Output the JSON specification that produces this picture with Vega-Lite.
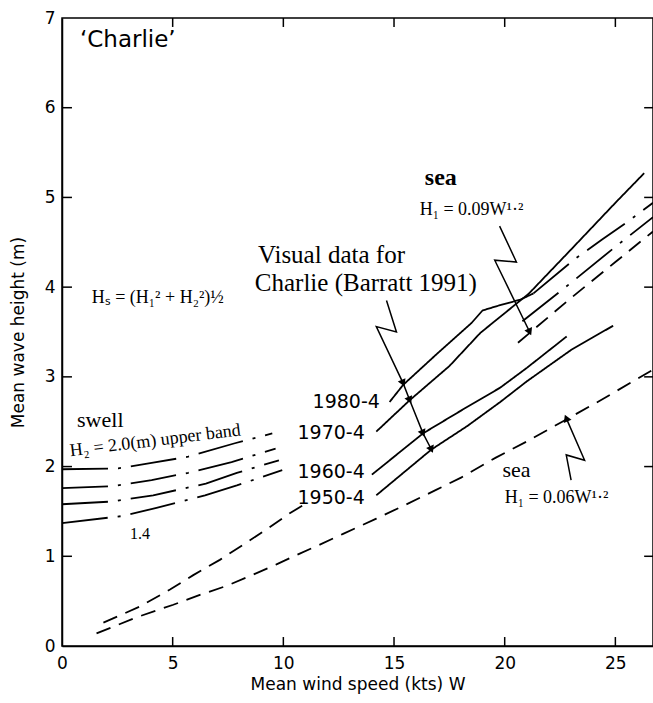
{
  "$schema": "https://vega.github.io/schema/vega-lite/v6.json",
  "width": 591,
  "height": 628,
  "autosize": {"type": "none"},
  "padding": {"left": 62, "top": 18, "right": 0, "bottom": 57},
  "background": "white",
  "config": {
    "view": {"stroke": "black", "strokeWidth": 1.5},
    "axis": {
      "grid": false,
      "ticks": false,
      "domainColor": "black",
      "domainWidth": 1.5,
      "labelFont": "DejaVu Sans",
      "labelFontSize": 17,
      "labelColor": "black",
      "labelFlush": false,
      "titleFont": "DejaVu Sans",
      "titleFontSize": 17,
      "titleFontWeight": "normal",
      "titleColor": "black"
    }
  },
  "datasets": {
    "curves": [
      {"s": "swell20", "st": "dashdot", "x": 0, "y": 1.97},
      {"s": "swell20", "st": "dashdot", "x": 2.54, "y": 1.98},
      {"s": "swell20", "st": "dashdot", "x": 4.05, "y": 2.04},
      {"s": "swell20", "st": "dashdot", "x": 5.7, "y": 2.11},
      {"s": "swell20", "st": "dashdot", "x": 7.81, "y": 2.26},
      {"s": "swell20", "st": "dashdot", "x": 9.5, "y": 2.37},
      {"s": "swell18", "st": "dashdot", "x": 0, "y": 1.76},
      {"s": "swell18", "st": "dashdot", "x": 2.24, "y": 1.78},
      {"s": "swell18", "st": "dashdot", "x": 4.05, "y": 1.85},
      {"s": "swell18", "st": "dashdot", "x": 5.7, "y": 1.93},
      {"s": "swell18", "st": "dashdot", "x": 7.66, "y": 2.05},
      {"s": "swell18", "st": "dashdot", "x": 9.65, "y": 2.2},
      {"s": "swell16", "st": "dashdot", "x": 0, "y": 1.58},
      {"s": "swell16", "st": "dashdot", "x": 2.24, "y": 1.61},
      {"s": "swell16", "st": "dashdot", "x": 4.12, "y": 1.68},
      {"s": "swell16", "st": "dashdot", "x": 6.5, "y": 1.81},
      {"s": "swell16", "st": "dashdot", "x": 7.9, "y": 1.93},
      {"s": "swell16", "st": "dashdot", "x": 9.8, "y": 2.07},
      {"s": "swell14", "st": "dashdot", "x": 0, "y": 1.37},
      {"s": "swell14", "st": "dashdot", "x": 2.77, "y": 1.45},
      {"s": "swell14", "st": "dashdot", "x": 4.27, "y": 1.54},
      {"s": "swell14", "st": "dashdot", "x": 6.46, "y": 1.68},
      {"s": "swell14", "st": "dashdot", "x": 7.9, "y": 1.79},
      {"s": "swell14", "st": "dashdot", "x": 9.95, "y": 1.96},
      {"s": "sea09a", "st": "dashed", "x": 1.87, "y": 0.26},
      {"s": "sea09a", "st": "dashed", "x": 3.52, "y": 0.44},
      {"s": "sea09a", "st": "dashed", "x": 4.88, "y": 0.63},
      {"s": "sea09a", "st": "dashed", "x": 5.93, "y": 0.79},
      {"s": "sea09a", "st": "dashed", "x": 7.13, "y": 0.96},
      {"s": "sea09a", "st": "dashed", "x": 8.19, "y": 1.13},
      {"s": "sea09a", "st": "dashed", "x": 9.24, "y": 1.3},
      {"s": "sea09a", "st": "dashed", "x": 10.29, "y": 1.48},
      {"s": "sea09a", "st": "dashed", "x": 10.9, "y": 1.57},
      {"s": "sea06", "st": "dashed", "x": 1.56, "y": 0.14},
      {"s": "sea06", "st": "dashed", "x": 3.37, "y": 0.32},
      {"s": "sea06", "st": "dashed", "x": 5.03, "y": 0.46},
      {"s": "sea06", "st": "dashed", "x": 6.23, "y": 0.57},
      {"s": "sea06", "st": "dashed", "x": 7.43, "y": 0.67},
      {"s": "sea06", "st": "dashed", "x": 8.49, "y": 0.78},
      {"s": "sea06", "st": "dashed", "x": 9.69, "y": 0.91},
      {"s": "sea06", "st": "dashed", "x": 10.74, "y": 1.03},
      {"s": "sea06", "st": "dashed", "x": 11.65, "y": 1.13},
      {"s": "sea06", "st": "dashed", "x": 12.7, "y": 1.25},
      {"s": "sea06", "st": "dashed", "x": 14.2, "y": 1.42},
      {"s": "sea06", "st": "dashed", "x": 15.4, "y": 1.56},
      {"s": "sea06", "st": "dashed", "x": 16.9, "y": 1.74},
      {"s": "sea06", "st": "dashed", "x": 18.05, "y": 1.88},
      {"s": "sea06", "st": "dashed", "x": 19.6, "y": 2.1},
      {"s": "sea06", "st": "dashed", "x": 21.0, "y": 2.28},
      {"s": "sea06", "st": "dashed", "x": 22.6, "y": 2.5},
      {"s": "sea06", "st": "dashed", "x": 24.2, "y": 2.72},
      {"s": "sea06", "st": "dashed", "x": 25.8, "y": 2.95},
      {"s": "sea06", "st": "dashed", "x": 26.7, "y": 3.08},
      {"s": "sea09b", "st": "dashed", "x": 20.6, "y": 3.38},
      {"s": "sea09b", "st": "dashed", "x": 23.0, "y": 3.88},
      {"s": "sea09b", "st": "dashed", "x": 25.0, "y": 4.28},
      {"s": "sea09b", "st": "dashed", "x": 26.7, "y": 4.62},
      {"s": "comb_a", "st": "dashdot", "x": 21.3, "y": 3.93},
      {"s": "comb_a", "st": "dashdot", "x": 23.2, "y": 4.32},
      {"s": "comb_a", "st": "dashdot", "x": 24.4, "y": 4.53},
      {"s": "comb_a", "st": "dashdot", "x": 25.5, "y": 4.72},
      {"s": "comb_a", "st": "dashdot", "x": 26.7, "y": 4.94},
      {"s": "comb_b", "st": "dashdot", "x": 20.8, "y": 3.62},
      {"s": "comb_b", "st": "dashdot", "x": 23.0, "y": 4.05},
      {"s": "comb_b", "st": "dashdot", "x": 25.0, "y": 4.45},
      {"s": "comb_b", "st": "dashdot", "x": 26.7, "y": 4.78},
      {"s": "d1980", "st": "solid", "x": 14.8, "y": 2.72},
      {"s": "d1980", "st": "solid", "x": 15.41, "y": 2.91},
      {"s": "d1980", "st": "solid", "x": 17.0, "y": 3.27},
      {"s": "d1980", "st": "solid", "x": 18.5, "y": 3.6},
      {"s": "d1980", "st": "solid", "x": 19.0, "y": 3.74},
      {"s": "d1980", "st": "solid", "x": 19.8, "y": 3.8},
      {"s": "d1980", "st": "solid", "x": 20.7, "y": 3.86},
      {"s": "d1980", "st": "solid", "x": 21.3, "y": 3.93},
      {"s": "d1970", "st": "solid", "x": 14.2, "y": 2.39},
      {"s": "d1970", "st": "solid", "x": 15.71, "y": 2.74},
      {"s": "d1970", "st": "solid", "x": 17.5, "y": 3.12},
      {"s": "d1970", "st": "solid", "x": 18.9, "y": 3.49},
      {"s": "d1970", "st": "solid", "x": 21.1, "y": 3.93},
      {"s": "d1970", "st": "solid", "x": 23.0, "y": 4.42},
      {"s": "d1970", "st": "solid", "x": 25.0, "y": 4.94},
      {"s": "d1970", "st": "solid", "x": 26.3, "y": 5.27},
      {"s": "d1960", "st": "solid", "x": 14.0, "y": 1.91},
      {"s": "d1960", "st": "solid", "x": 16.31, "y": 2.37},
      {"s": "d1960", "st": "solid", "x": 18.0, "y": 2.62},
      {"s": "d1960", "st": "solid", "x": 19.8, "y": 2.88},
      {"s": "d1960", "st": "solid", "x": 21.0, "y": 3.1},
      {"s": "d1960", "st": "solid", "x": 22.8, "y": 3.45},
      {"s": "d1950", "st": "solid", "x": 14.2, "y": 1.68},
      {"s": "d1950", "st": "solid", "x": 16.69, "y": 2.19},
      {"s": "d1950", "st": "solid", "x": 18.3, "y": 2.45},
      {"s": "d1950", "st": "solid", "x": 19.8, "y": 2.72},
      {"s": "d1950", "st": "solid", "x": 21.0, "y": 2.95},
      {"s": "d1950", "st": "solid", "x": 23.0, "y": 3.3},
      {"s": "d1950", "st": "solid", "x": 24.9, "y": 3.57}
    ],
    "arrows": [
      {"s": "vis", "o": 1, "x": 14.66, "y": 3.85},
      {"s": "vis", "o": 2, "x": 15.11, "y": 3.5},
      {"s": "vis", "o": 3, "x": 14.2, "y": 3.56},
      {"s": "vis", "o": 4, "x": 15.41, "y": 2.93},
      {"s": "vis", "o": 5, "x": 15.71, "y": 2.74},
      {"s": "vis", "o": 6, "x": 16.31, "y": 2.37},
      {"s": "vis", "o": 7, "x": 16.69, "y": 2.19},
      {"s": "a09", "o": 1, "x": 19.77, "y": 4.68},
      {"s": "a09", "o": 2, "x": 20.53, "y": 4.28},
      {"s": "a09", "o": 3, "x": 19.55, "y": 4.3},
      {"s": "a09", "o": 4, "x": 21.13, "y": 3.5},
      {"s": "a06", "o": 1, "x": 22.78, "y": 2.54},
      {"s": "a06", "o": 2, "x": 23.61, "y": 2.07},
      {"s": "a06", "o": 3, "x": 22.78, "y": 2.13},
      {"s": "a06", "o": 4, "x": 23.0, "y": 1.85}
    ],
    "xticks": [{"v": 5}, {"v": 10}, {"v": 15}, {"v": 20}, {"v": 25}],
    "yticks": [{"v": 1}, {"v": 2}, {"v": 3}, {"v": 4}, {"v": 5}, {"v": 6}]
  },
  "layer": [
    {
      "data": {"name": "curves"},
      "mark": {"type": "line", "color": "black", "strokeWidth": 1.8, "strokeCap": "butt"},
      "encoding": {
        "x": {
          "field": "x", "type": "quantitative",
          "scale": {"domain": [0, 26.7], "nice": false, "zero": false},
          "axis": {"values": [0, 5, 10, 15, 20, 25], "title": "Mean wind speed (kts)  W", "labelPadding": 9, "titlePadding": 5}
        },
        "y": {
          "field": "y", "type": "quantitative",
          "scale": {"domain": [0, 7], "nice": false, "zero": false},
          "axis": {"values": [0, 1, 2, 3, 4, 5, 6, 7], "format": "d", "title": "Mean wave height (m)", "labelPadding": 7, "titlePadding": 17}
        },
        "detail": {"field": "s", "type": "nominal"},
        "strokeDash": {
          "field": "st", "type": "nominal",
          "scale": {"domain": ["solid", "dashed", "dashdot"], "range": [[1, 0], [15, 9], [46, 10, 3, 10]]},
          "legend": null
        }
      }
    },
    {
      "data": {"name": "xticks"},
      "mark": {"type": "rule", "color": "black", "strokeWidth": 1.5},
      "encoding": {
        "x": {"field": "v", "type": "quantitative"},
        "y": {"datum": 0},
        "y2": {"datum": 0.1}
      }
    },
    {
      "data": {"name": "xticks"},
      "mark": {"type": "rule", "color": "black", "strokeWidth": 1.5},
      "encoding": {
        "x": {"field": "v", "type": "quantitative"},
        "y": {"datum": 7},
        "y2": {"datum": 6.9}
      }
    },
    {
      "data": {"name": "yticks"},
      "mark": {"type": "rule", "color": "black", "strokeWidth": 1.5},
      "encoding": {
        "y": {"field": "v", "type": "quantitative"},
        "x": {"datum": 0},
        "x2": {"datum": 0.45}
      }
    },
    {
      "data": {"name": "yticks"},
      "mark": {"type": "rule", "color": "black", "strokeWidth": 1.5},
      "encoding": {
        "y": {"field": "v", "type": "quantitative"},
        "x": {"datum": 26.7},
        "x2": {"datum": 26.3}
      }
    },
    {
      "data": {"name": "arrows"},
      "mark": {"type": "line", "color": "black", "strokeWidth": 1.5},
      "encoding": {
        "x": {"field": "x", "type": "quantitative"},
        "y": {"field": "y", "type": "quantitative"},
        "detail": {"field": "s", "type": "nominal"},
        "order": {"field": "o", "type": "quantitative"}
      }
    },
    {
      "data": {"values": [{"x": 15.41, "y": 2.93}, {"x": 15.71, "y": 2.74}, {"x": 16.31, "y": 2.37}, {"x": 16.69, "y": 2.19}, {"x": 21.13, "y": 3.5}]},
      "mark": {"type": "point", "shape": "triangle-down", "filled": true, "color": "black", "size": 70, "angle": -24, "opacity": 1},
      "encoding": {
        "x": {"field": "x", "type": "quantitative"},
        "y": {"field": "y", "type": "quantitative"}
      }
    },
    {
      "data": {"values": [{"x": 22.78, "y": 2.54}]},
      "mark": {"type": "point", "shape": "triangle-up", "filled": true, "color": "black", "size": 70, "angle": -23, "opacity": 1},
      "encoding": {
        "x": {"field": "x", "type": "quantitative"},
        "y": {"field": "y", "type": "quantitative"}
      }
    },
    {
      "data": {"values": [{"x": 0.81, "y": 6.76, "t": "‘Charlie’"}]},
      "mark": {"type": "text", "align": "left", "baseline": "middle", "font": "DejaVu Sans", "fontSize": 23, "color": "black"},
      "encoding": {"x": {"field": "x", "type": "quantitative"}, "y": {"field": "y", "type": "quantitative"}, "text": {"field": "t"}}
    },
    {
      "data": {"values": [
        {"x": 14.36, "y": 2.72, "t": "1980-4"},
        {"x": 13.68, "y": 2.37, "t": "1970-4"},
        {"x": 13.68, "y": 1.94, "t": "1960-4"},
        {"x": 13.68, "y": 1.65, "t": "1950-4"}
      ]},
      "mark": {"type": "text", "align": "right", "baseline": "middle", "font": "DejaVu Sans", "fontSize": 19, "color": "black"},
      "encoding": {"x": {"field": "x", "type": "quantitative"}, "y": {"field": "y", "type": "quantitative"}, "text": {"field": "t"}}
    },
    {
      "data": {"values": [
        {"x": 8.85, "y": 4.36, "t": "Visual data for"},
        {"x": 8.71, "y": 4.05, "t": "Charlie (Barratt 1991)"}
      ]},
      "mark": {"type": "text", "align": "left", "baseline": "middle", "font": "Liberation Serif", "fontSize": 25, "color": "black"},
      "encoding": {"x": {"field": "x", "type": "quantitative"}, "y": {"field": "y", "type": "quantitative"}, "text": {"field": "t"}}
    },
    {
      "data": {"values": [
        {"x": 0.68, "y": 2.52, "t": "swell"},
        {"x": 19.9, "y": 1.96, "t": "sea"}
      ]},
      "mark": {"type": "text", "align": "left", "baseline": "middle", "font": "Liberation Serif", "fontSize": 22, "color": "black"},
      "encoding": {"x": {"field": "x", "type": "quantitative"}, "y": {"field": "y", "type": "quantitative"}, "text": {"field": "t"}}
    },
    {
      "data": {"values": [{"x": 16.39, "y": 5.22, "t": "sea"}]},
      "mark": {"type": "text", "align": "left", "baseline": "middle", "font": "Liberation Serif", "fontSize": 24, "fontWeight": "bold", "color": "black"},
      "encoding": {"x": {"field": "x", "type": "quantitative"}, "y": {"field": "y", "type": "quantitative"}, "text": {"field": "t"}}
    },
    {
      "data": {"values": [
        {"x": 16.16, "y": 4.86, "t": "H₁ = 0.09W¹·²"},
        {"x": 20.0, "y": 1.65, "t": "H₁ = 0.06W¹·²"},
        {"x": 1.34, "y": 3.88, "t": "Hₛ = (H₁² + H₂²)½"}
      ]},
      "mark": {"type": "text", "align": "left", "baseline": "middle", "font": "Liberation Serif", "fontSize": 18, "color": "black"},
      "encoding": {"x": {"field": "x", "type": "quantitative"}, "y": {"field": "y", "type": "quantitative"}, "text": {"field": "t"}}
    },
    {
      "data": {"values": [{"x": 3.07, "y": 1.25, "t": "1.4"}]},
      "mark": {"type": "text", "align": "left", "baseline": "middle", "font": "Liberation Serif", "fontSize": 16, "color": "black"},
      "encoding": {"x": {"field": "x", "type": "quantitative"}, "y": {"field": "y", "type": "quantitative"}, "text": {"field": "t"}}
    },
    {
      "data": {"values": [{"x": 0.36, "y": 2.17, "t": "H₂ = 2.0(m) upper band"}]},
      "mark": {"type": "text", "align": "left", "baseline": "middle", "font": "Liberation Serif", "fontSize": 18, "angle": -7, "color": "black"},
      "encoding": {"x": {"field": "x", "type": "quantitative"}, "y": {"field": "y", "type": "quantitative"}, "text": {"field": "t"}}
    }
  ]
}
